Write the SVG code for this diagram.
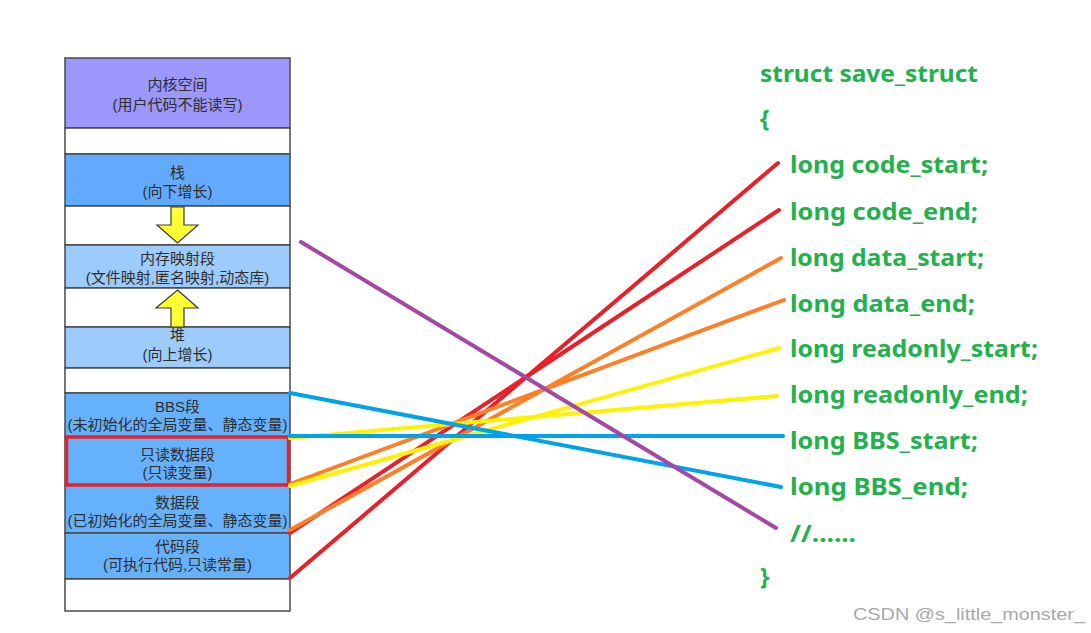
<svg xmlns="http://www.w3.org/2000/svg" width="1091" height="633" viewBox="0 0 1091 633">
<style>
.seg{stroke:#4a4a4a;stroke-width:1.5}
.white{fill:#ffffff}
.kern{fill:#9b97fb}
.dark{fill:#62aaff}
.light{fill:#9ccbfc}
.mid{fill:#66b1fc}
.lbl{font-family:"Liberation Sans","Noto Sans CJK SC",sans-serif;font-size:15px;fill:#2e2e2e;text-anchor:middle}
.code{font-family:"Noto Sans","Noto Sans CJK SC",sans-serif;font-size:24px;font-weight:bold;fill:#22b14c}
.arrow{fill:#ffff33;stroke:#3a3a3a;stroke-width:1.2}
.conn{stroke-width:4;stroke-linecap:round;fill:none}
.red{stroke:#e8202a}
.orange{stroke:#ff7f27}
.yellow{stroke:#fff200}
.blue{stroke:#00a2e8}
.purple{stroke:#a349a4}
.wm{font-family:"Liberation Sans",Arial,sans-serif;font-size:17px;fill:#a8a8a8}
</style>
<rect x="0" y="0" width="1091" height="633" fill="#ffffff"/>

<g id="memory-layout">
  <g id="kernel">
    <rect class="seg kern" x="65" y="58" width="225" height="70"/>
    <text class="lbl" x="177.5" y="90">内核空间</text>
    <text class="lbl" x="177.5" y="110">(用户代码不能读写)</text>
  </g>
  <g id="gap1"><rect class="seg white" x="65" y="128" width="225" height="26"/></g>
  <g id="stack">
    <rect class="seg dark" x="65" y="154" width="225" height="52"/>
    <text class="lbl" x="177.5" y="178">栈</text>
    <text class="lbl" x="177.5" y="197">(向下增长)</text>
  </g>
  <g id="gap2"><rect class="seg white" x="65" y="206" width="225" height="39"/></g>
  <g id="mmap">
    <rect class="seg light" x="65" y="245" width="225" height="43"/>
    <text class="lbl" x="177.5" y="264">内存映射段</text>
    <text class="lbl" x="177.5" y="283">(文件映射,匿名映射,动态库)</text>
  </g>
  <g id="gap3"><rect class="seg white" x="65" y="288" width="225" height="39"/></g>
  <g id="heap">
    <rect class="seg light" x="65" y="327" width="225" height="41"/>
    <text class="lbl" x="177.5" y="340">堆</text>
    <text class="lbl" x="177.5" y="360">(向上增长)</text>
  </g>
  <g id="gap4"><rect class="seg white" x="65" y="368" width="225" height="25"/></g>
  <g id="bbs">
    <rect class="seg mid" x="65" y="393" width="225" height="44"/>
    <text class="lbl" x="177.5" y="412">BBS段</text>
    <text class="lbl" x="177.5" y="430">(未初始化的全局变量、静态变量)</text>
  </g>
  <g id="readonly">
    <rect class="seg mid" x="65" y="437" width="225" height="48"/>
    <text class="lbl" x="177.5" y="460">只读数据段</text>
    <text class="lbl" x="177.5" y="478">(只读变量)</text>
  </g>
  <g id="data">
    <rect class="seg mid" x="65" y="485" width="225" height="48"/>
    <text class="lbl" x="177.5" y="508">数据段</text>
    <text class="lbl" x="177.5" y="526">(已初始化的全局变量、静态变量)</text>
  </g>
  <g id="code">
    <rect class="seg mid" x="65" y="533" width="225" height="46"/>
    <text class="lbl" x="177.5" y="552">代码段</text>
    <text class="lbl" x="177.5" y="570">(可执行代码,只读常量)</text>
  </g>
  <g id="gap5"><rect class="seg white" x="65" y="579" width="225" height="32"/></g>
  <g id="readonly-highlight">
    <rect x="66.5" y="437" width="222" height="48" fill="none" stroke="#e8202a" stroke-width="3.5"/>
  </g>
  <g id="arrow-down">
    <polygon class="arrow" points="171,207 184,207 184,225 198,225 177.5,243 157,225 171,225"/>
  </g>
  <g id="arrow-up">
    <polygon class="arrow" points="177.5,290 198,308 184,308 184,327 171,327 171,308 156,308"/>
  </g>
</g>

<g id="connectors">
  <line class="conn red" x1="290" y1="578" x2="778" y2="163"/>
  <line class="conn red" x1="290" y1="533" x2="779" y2="210"/>
  <line class="conn orange" x1="290" y1="530" x2="781" y2="258"/>
  <line class="conn orange" x1="290" y1="484" x2="784" y2="300"/>
  <line class="conn yellow" x1="290" y1="486" x2="779" y2="348"/>
  <line class="conn yellow" x1="290" y1="438" x2="777" y2="396"/>
  <line class="conn blue" x1="290" y1="436" x2="783" y2="436"/>
  <line class="conn blue" x1="290" y1="393" x2="781" y2="487"/>
  <line class="conn purple" x1="301" y1="242" x2="776" y2="528"/>
</g>

<g id="struct">
  <text class="code" x="760" y="82" textLength="218" lengthAdjust="spacingAndGlyphs">struct save_struct</text>
  <text class="code" x="760" y="127">{</text>
  <text class="code" x="790" y="173" textLength="198" lengthAdjust="spacingAndGlyphs">long code_start;</text>
  <text class="code" x="790" y="220" textLength="188" lengthAdjust="spacingAndGlyphs">long code_end;</text>
  <text class="code" x="790" y="266" textLength="194" lengthAdjust="spacingAndGlyphs">long data_start;</text>
  <text class="code" x="790" y="312" textLength="185" lengthAdjust="spacingAndGlyphs">long data_end;</text>
  <text class="code" x="790" y="357" textLength="248" lengthAdjust="spacingAndGlyphs">long readonly_start;</text>
  <text class="code" x="790" y="403" textLength="238" lengthAdjust="spacingAndGlyphs">long readonly_end;</text>
  <text class="code" x="790" y="449" textLength="188" lengthAdjust="spacingAndGlyphs">long BBS_start;</text>
  <text class="code" x="790" y="495" textLength="178" lengthAdjust="spacingAndGlyphs">long BBS_end;</text>
  <text class="code" x="790" y="542" textLength="66" lengthAdjust="spacingAndGlyphs">//......</text>
  <text class="code" x="760" y="585">}</text>
</g>

<text class="wm" x="853" y="620" textLength="232" lengthAdjust="spacingAndGlyphs">CSDN @s_little_monster_</text>
</svg>
